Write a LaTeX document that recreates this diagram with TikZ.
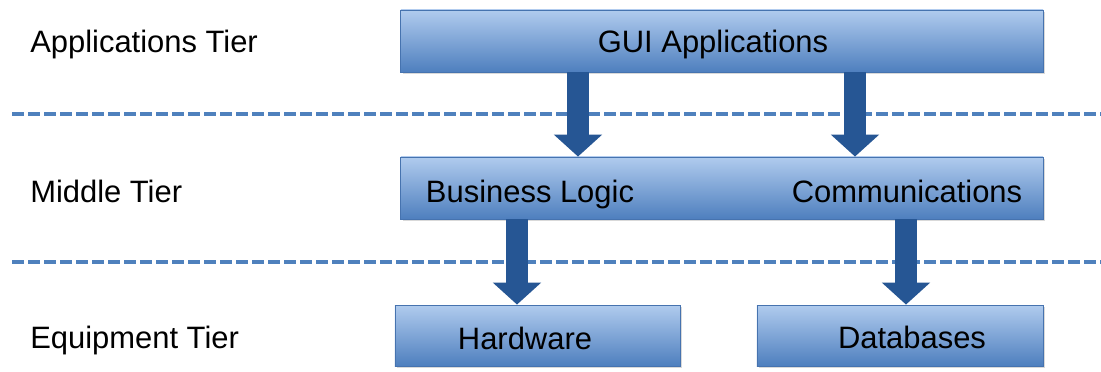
\documentclass[tikz,border=0pt]{standalone}
\usepackage{fontspec}
\setmainfont{Liberation Sans}
\usetikzlibrary{arrows.meta,shadows}
\definecolor{tiertop}{RGB}{176,203,238}
\definecolor{tierbot}{RGB}{78,127,190}
\definecolor{tierline}{RGB}{70,115,175}
\definecolor{flowblue}{RGB}{38,86,148}
\definecolor{dashblue}{RGB}{79,129,189}
\tikzset{
  tierbox/.style={draw=tierline, line width=0.6pt, top color=tiertop, bottom color=tierbot,
    drop shadow={opacity=0.3, shadow xshift=1.5pt, shadow yshift=-1.5pt}},
  tiertext/.style={font=\fontsize{22}{26}\selectfont, inner sep=0pt, anchor=base},
  flow/.style={flowblue, line width=0.55cm, -{Triangle[width=1.18cm,length=0.55cm]}},
  divider/.style={dashblue, line width=0.1cm, dash pattern=on 0.3cm off 0.1cm}
}
\begin{document}
\begin{tikzpicture}[x=0.025cm, y=-0.025cm]
	\useasboundingbox (0,0) rectangle (1101,371);
	% tier dividers
	\draw[divider] (12,114) -- (1101,114);
	\draw[divider] (12,262) -- (1101,262);
	% tier names
	\node (app) at (30,52) [tiertext, anchor=base west] {Applications Tier};
	\node (middle) at (30,202) [tiertext, anchor=base west] {Middle Tier};
	\node (equip) at (30,348) [tiertext, anchor=base west] {Equipment Tier};
	% boxes
	\node (gui) at (722,41) [tierbox, minimum width=16.05cm, minimum height=1.55cm] {};
	\node (mid) at (722,188) [tierbox, minimum width=16.05cm, minimum height=1.55cm] {};
	\node (hw) at (537.5,335.5) [tierbox, minimum width=7.125cm, minimum height=1.525cm] {};
	\node (db) at (900,335.5) [tierbox, minimum width=7.15cm, minimum height=1.525cm] {};
	\node (guitext) at (713,52) [tiertext] {GUI Applications};
	\node (logic) at (530,202) [tiertext] {Business Logic};
	\node (comm) at (907,202) [tiertext] {Communications};
	\node (hwtext) at (525,349) [tiertext] {Hardware};
	\node (dbtext) at (912,348) [tiertext] {Databases};
	% arrows
	\coordinate (d1) at (578,0);
	\coordinate (d2) at (855,0);
	\coordinate (d3) at (517,0);
	\coordinate (d4) at (906,0);
	\draw[flow] (gui.south -| d1) -- (mid.north -| d1);
	\draw[flow] (gui.south -| d2) -- (mid.north -| d2);
	\draw[flow] (mid.south -| d3) -- (hw.north -| d3);
	\draw[flow] (mid.south -| d4) -- (db.north -| d4);
\end{tikzpicture}
\end{document}
